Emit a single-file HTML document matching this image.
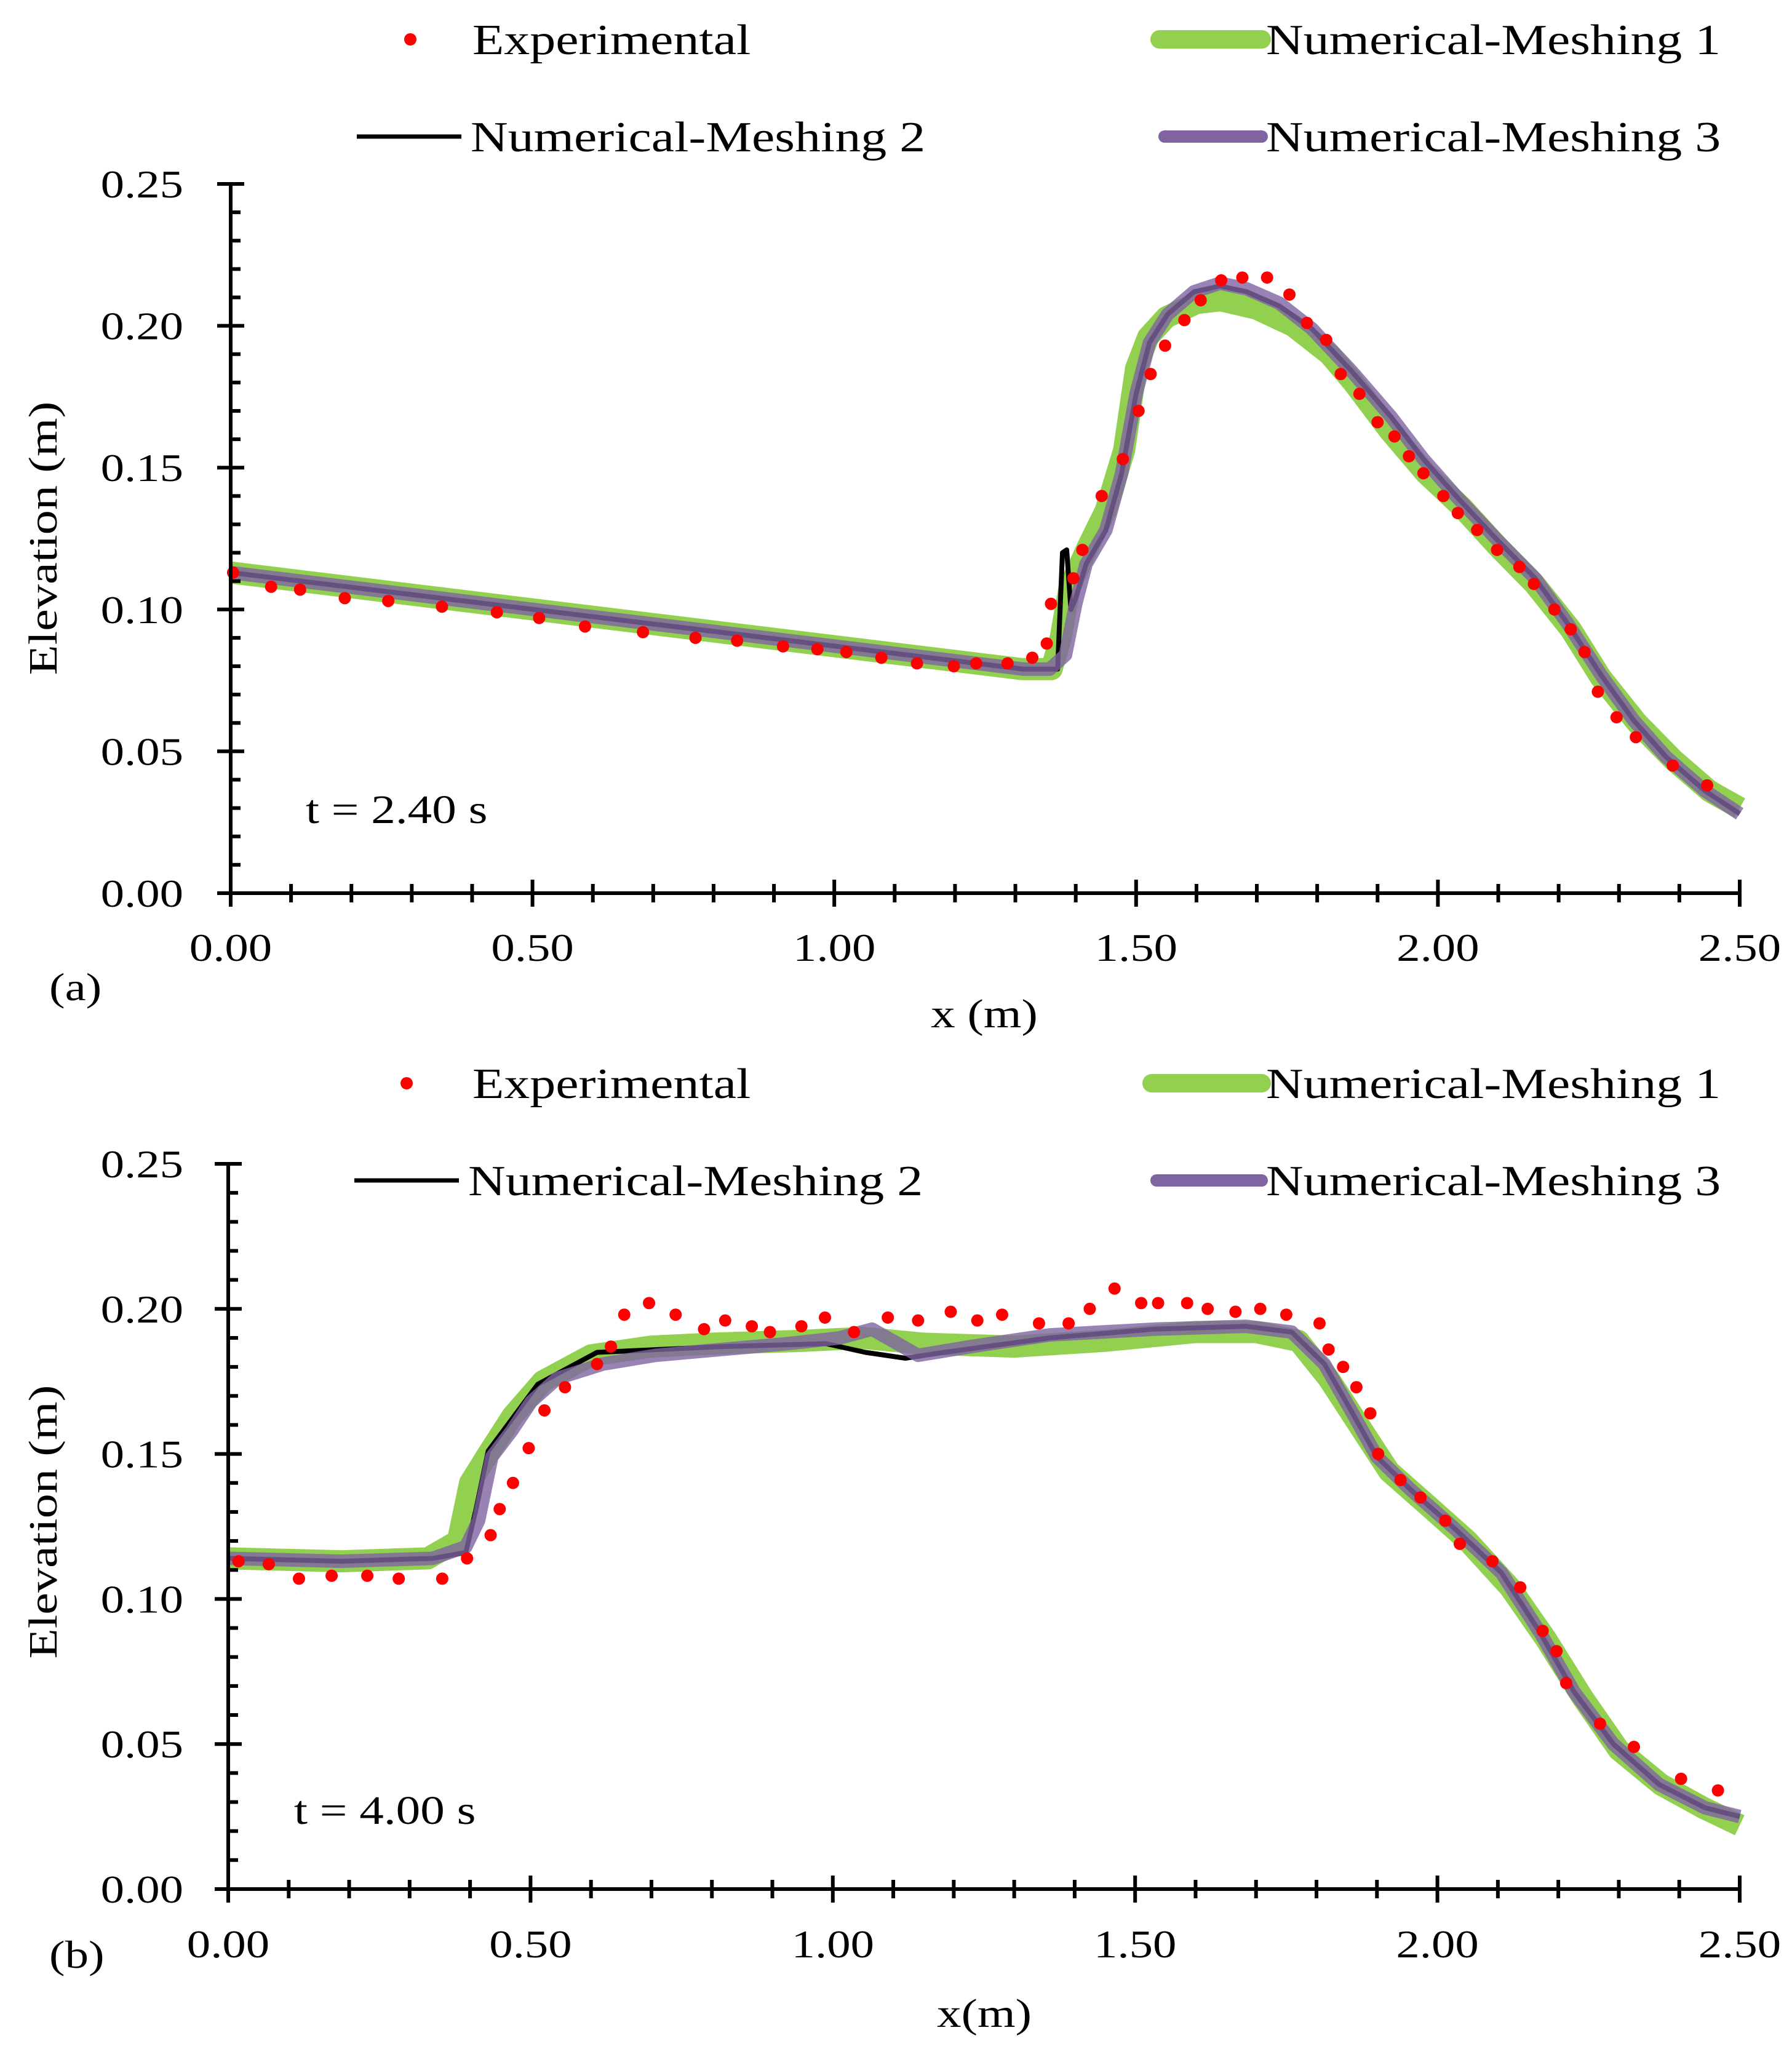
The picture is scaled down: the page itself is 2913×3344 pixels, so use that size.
<!DOCTYPE html>
<html><head><meta charset="utf-8"><style>
html,body{margin:0;padding:0;background:#fff;}
svg{display:block;font-family:"Liberation Serif",serif;}
</style></head><body>
<svg id="chart" width="2913" height="3344" viewBox="0 0 2913 3344" xmlns="http://www.w3.org/2000/svg"></svg>
<script>
// ---------- Panel (a) data ----------
const expAx=[0.004,0.067,0.115,0.189,0.261,0.35,0.441,0.511,0.587,0.683,0.77,0.839,0.915,0.972,1.02,1.078,1.137,1.198,1.235,1.287,1.328,1.352,1.359,1.396,1.411,1.443,1.478,1.504,1.524,1.548,1.58,1.607,1.641,1.676,1.717,1.754,1.783,1.815,1.839,1.87,1.9,1.928,1.952,1.976,2.009,2.033,2.065,2.098,2.135,2.159,2.193,2.22,2.243,2.265,2.296,2.328,2.389,2.446];
const expAy=[0.113,0.108,0.107,0.104,0.103,0.101,0.099,0.097,0.094,0.092,0.090,0.089,0.087,0.086,0.085,0.083,0.081,0.080,0.081,0.081,0.083,0.088,0.102,0.111,0.121,0.140,0.153,0.170,0.183,0.193,0.202,0.209,0.216,0.217,0.217,0.211,0.201,0.195,0.183,0.176,0.166,0.161,0.154,0.148,0.140,0.134,0.128,0.121,0.115,0.109,0.100,0.093,0.085,0.071,0.062,0.055,0.045,0.038];
const m3Ax=[0,1.313,1.357,1.383,1.4,1.417,1.45,1.476,1.5,1.522,1.552,1.596,1.639,1.683,1.737,1.791,1.857,1.922,1.976,2.03,2.096,2.161,2.215,2.27,2.324,2.378,2.443,2.5];
const m3Ay=[0.113,0.079,0.079,0.084,0.102,0.116,0.128,0.148,0.176,0.194,0.204,0.212,0.215,0.213,0.208,0.199,0.184,0.168,0.153,0.140,0.125,0.111,0.095,0.077,0.061,0.048,0.036,0.028];
const m2Ax=[0,1.313,1.37,1.378,1.385,1.392,1.4,1.417,1.45,1.476,1.5,1.522,1.552,1.596,1.639,1.683,1.737,1.791,1.857,1.922,1.976,2.03,2.096,2.161,2.215,2.27,2.324,2.378,2.443,2.5];
const m2Ay=[0.113,0.079,0.079,0.120,0.121,0.100,0.104,0.116,0.128,0.148,0.176,0.194,0.204,0.212,0.214,0.212,0.207,0.199,0.184,0.168,0.153,0.140,0.125,0.111,0.095,0.077,0.061,0.048,0.036,0.028];
const m1Ax=[0,1.31,1.36,1.375,1.39,1.42,1.45,1.48,1.5,1.52,1.55,1.6,1.64,1.7,1.76,1.82,1.86,1.92,1.98,2.04,2.1,2.16,2.22,2.27,2.33,2.39,2.45,2.5];
const m1Ay=[0.113,0.079,0.079,0.090,0.108,0.122,0.135,0.156,0.185,0.196,0.203,0.208,0.209,0.206,0.200,0.190,0.180,0.163,0.148,0.136,0.122,0.109,0.093,0.076,0.060,0.047,0.036,0.030];
// ---------- Panel (b) data ----------
const expBx=[0.017,0.067,0.117,0.171,0.23,0.282,0.354,0.395,0.434,0.449,0.471,0.497,0.523,0.557,0.61,0.633,0.655,0.696,0.74,0.787,0.822,0.866,0.896,0.948,0.987,1.035,1.091,1.141,1.195,1.239,1.28,1.341,1.39,1.425,1.466,1.51,1.538,1.586,1.62,1.666,1.707,1.75,1.805,1.82,1.844,1.866,1.889,1.902,1.939,1.972,2.013,2.037,2.091,2.137,2.174,2.197,2.213,2.269,2.325,2.403,2.464];
const expBy=[0.113,0.112,0.107,0.108,0.108,0.107,0.107,0.114,0.122,0.131,0.140,0.152,0.165,0.173,0.181,0.187,0.198,0.202,0.198,0.193,0.196,0.194,0.192,0.194,0.197,0.192,0.197,0.196,0.199,0.196,0.198,0.195,0.195,0.200,0.207,0.202,0.202,0.202,0.200,0.199,0.200,0.198,0.195,0.186,0.180,0.173,0.164,0.150,0.141,0.135,0.127,0.119,0.113,0.104,0.089,0.082,0.071,0.057,0.049,0.038,0.034];
const m3Bx=[0,0.187,0.338,0.393,0.414,0.436,0.469,0.501,0.544,0.62,0.707,0.816,0.924,1.011,1.065,1.141,1.228,1.358,1.531,1.683,1.759,1.813,1.857,1.9,1.954,2.03,2.106,2.171,2.226,2.291,2.367,2.443,2.5];
const m3By=[0.114,0.113,0.114,0.118,0.127,0.149,0.158,0.168,0.176,0.181,0.184,0.186,0.188,0.190,0.193,0.184,0.187,0.191,0.193,0.194,0.192,0.181,0.165,0.149,0.138,0.124,0.109,0.088,0.068,0.050,0.036,0.028,0.025];
const m2Bx=[0,0.187,0.338,0.393,0.41,0.43,0.512,0.61,0.816,0.989,1.054,1.12,1.184,1.358,1.531,1.683,1.759,1.813,1.857,1.9,1.954,2.03,2.106,2.171,2.226,2.291,2.367,2.443,2.5];
const m2By=[0.114,0.113,0.114,0.116,0.131,0.151,0.174,0.185,0.187,0.188,0.185,0.183,0.185,0.190,0.193,0.194,0.192,0.181,0.165,0.149,0.138,0.124,0.109,0.088,0.068,0.050,0.036,0.028,0.025];
const m1Bx=[0,0.187,0.33,0.38,0.4,0.43,0.47,0.52,0.6,0.7,0.8,0.95,1.05,1.15,1.3,1.45,1.6,1.7,1.77,1.82,1.87,1.92,1.98,2.05,2.12,2.18,2.24,2.3,2.37,2.44,2.5];
const m1By=[0.114,0.113,0.114,0.120,0.140,0.150,0.163,0.175,0.184,0.187,0.188,0.189,0.190,0.188,0.187,0.189,0.192,0.192,0.189,0.176,0.160,0.144,0.133,0.120,0.104,0.086,0.066,0.048,0.036,0.028,0.022];
const xTicks=["0.00","0.50","1.00","1.50","2.00","2.50"];
const yTicks=["0.00","0.05","0.10","0.15","0.20","0.25"];

const NS="http://www.w3.org/2000/svg";
const svg=document.getElementById('chart');
function mk(tag,attrs,parent,text){const e=document.createElementNS(NS,tag);for(const k in attrs)e.setAttribute(k,attrs[k]);if(text!==undefined)e.textContent=text;(parent||svg).appendChild(e);return e;}
// wide text: anchored at (x,y), stretched horizontally
function tx(x,y,size,anchor,str,parent,rot){
  const t=rot?`translate(${x},${y}) rotate(-90) scale(1.22,1)`:`translate(${x},${y}) scale(1.2,1)`;
  return mk('text',{x:0,y:0,'font-size':size,'text-anchor':anchor,transform:t,'xml:space':'preserve'},parent,str);
}

function panel(P){
  const g=mk('g',{});
  
  
  const X=v=>P.x0+v/2.5*(P.x1-P.x0);
  const Y=v=>P.y0-v/0.25*(P.y0-P.y1);
  const pts=(xs,ys)=>xs.map((v,i)=>X(v).toFixed(1)+','+Y(ys[i]).toFixed(1)).join(' ');
  const l1=mk('polyline',{points:pts(P.m1x,P.m1y),fill:'none',stroke:'#92d050','stroke-width':36,'stroke-linejoin':'round','stroke-linecap':'butt'},g);
  
  
  const l2=mk('polyline',{points:pts(P.m2x,P.m2y),fill:'none',stroke:'#000','stroke-width':8,'stroke-linejoin':'round'},g);
  
  
  const l3=mk('polyline',{points:pts(P.m3x,P.m3y),fill:'none',stroke:'#8064a2','stroke-width':22,'stroke-opacity':0.8,'stroke-linejoin':'round'},g);
  
  
  P.ex.forEach((v,i)=>{const c=mk('circle',{cx:X(v),cy:Y(P.ey[i]),r:10,fill:'#ff0000'},g);
    
    });
  const ax=mk('g',{stroke:'#000','stroke-width':6},g);
  
  
  mk('line',{x1:P.x0,y1:P.y0,x2:P.x1+3,y2:P.y0},ax);
  mk('line',{x1:P.x0,y1:P.y0+3,x2:P.x0,y2:P.y1-3},ax);
  for(let k=0;k<=25;k++){const x=X(k*0.1);const maj=k%5===0;
    mk('line',{x1:x,y1:P.y0-(maj?22:15),x2:x,y2:P.y0+(maj?22:15)},ax);}
  for(let k=0;k<=25;k++){const y=Y(k*0.01);const maj=k%5===0;
    mk('line',{x1:P.x0-(maj?22:0),y1:y,x2:P.x0+(maj?22:16),y2:y},ax);}
  xTicks.forEach((t,i)=>{const e=tx(X(i*0.5),P.xly,64,'middle',t,g);
    
    });
  yTicks.forEach((t,i)=>{const e=tx(298,Y(i*0.05)+22,64,'end',t,g);
    
    });
  let e=tx(1600,P.xty,66,'middle',P.xt,g);
  
  
  e=tx(92,P.ytc,66,'middle','Elevation (m)',g,true);
  
  
  e=tx(80,P.lab+22,64,'start',P.labt,g);
  
  
  e=tx(P.tx,P.ty+22,66,'start',P.tt,g);
  
  
  const lg=mk('g',{},g);
  
  
  const r1=P.lg1,r2=P.lg2;
  let it=mk('circle',{cx:P.dotx,cy:r1,r:10,fill:'#ff0000'},lg);
  
  
  it=tx(768,r1+24,70,'start','Experimental',lg);
  
  
  it=mk('line',{x1:P.gx1,y1:r1,x2:2051,y2:r1,stroke:'#92d050','stroke-width':30,'stroke-linecap':'round'},lg);
  
  
  it=tx(2058,r1+24,70,'start','Numerical-Meshing 1',lg);
  
  
  it=mk('line',{x1:P.bx1,y1:r2,x2:P.bx1+170,y2:r2,stroke:'#000','stroke-width':7},lg);
  
  
  it=tx(P.bx1+185,r2+24,70,'start','Numerical-Meshing 2',lg);
  
  
  it=mk('line',{x1:P.gx1+8,y1:r2,x2:2051,y2:r2,stroke:'#8064a2','stroke-width':20,'stroke-linecap':'round'},lg);
  
  
  it=tx(2058,r2+24,70,'start','Numerical-Meshing 3',lg);
  
  
}
panel({name:'panel-a',x0:375,x1:2828,y0:1452,y1:299,ex:expAx,ey:expAy,m1x:m1Ax,m1y:m1Ay,m2x:m2Ax,m2y:m2Ay,m3x:m3Ax,m3y:m3Ay,
  xly:1562,xt:'x (m)',xty:1670,ytc:875,lab:1604,labt:'(a)',tx:497,ty:1316,tt:'t = 2.40  s',
  lg1:64,lg2:222,dotx:667,gx1:1885,bx1:580});
panel({name:'panel-b',x0:371,x1:2828,y0:3071,y1:1892,ex:expBx,ey:expBy,m1x:m1Bx,m1y:m1By,m2x:m2Bx,m2y:m2By,m3x:m3Bx,m3y:m3By,
  xly:3182,xt:'x(m)',xty:3295,ytc:2474,lab:3177,labt:'(b)',tx:478,ty:2943,tt:'t = 4.00  s',
  lg1:1761,lg2:1919,dotx:661,gx1:1872,bx1:576});
</script>
</body></html>
